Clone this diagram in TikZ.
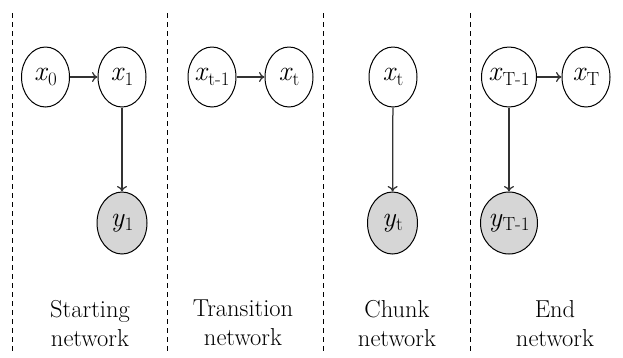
\documentclass[tikz,border=0pt]{standalone}
\usetikzlibrary{shapes.geometric,arrows.meta}
\newcommand{\vlab}[2]{\makebox[0pt]{\fontsize{28}{28}\selectfont\itshape #1\/\raisebox{-4.5pt}{\fontsize{19}{19}\selectfont\upshape #2}}}
\begin{document}
\begin{tikzpicture}[x=1pt,y=-1pt,
  rv/.style={ellipse, draw=black, line width=1pt, minimum width=48pt, minimum height=60pt, inner sep=0pt},
  obs/.style={rv, fill=black!16, minimum width=50pt, minimum height=62pt},
  arr/.style={draw=black!80, line width=1.25pt, -{To[length=5.5pt,width=10pt]}},
  divider/.style={draw=black, line width=0.8pt, dash pattern=on 5pt off 4pt},
  netlabel/.style={align=center, font=\fontsize{24.5}{29}\selectfont, inner sep=0pt, anchor=north}]
\useasboundingbox (0,0) rectangle (623,357);
% dividers
\coordinate (d1t) at (12,13);  \coordinate (d1b) at (12,352);
\coordinate (d2t) at (167,13); \coordinate (d2b) at (167,352);
\coordinate (d3t) at (323,13); \coordinate (d3b) at (323,352);
\coordinate (d4t) at (470,13); \coordinate (d4b) at (470,352);
\draw[divider] (d1t) -- (d1b);
\draw[divider] (d2t) -- (d2b);
\draw[divider] (d3t) -- (d3b);
\draw[divider] (d4t) -- (d4b);
% starting network
\node[rv] (x0) at (45.5,77) {\vlab{x}{0}};
\node[rv] (x1) at (122,77) {\vlab{x}{1}};
\node[obs] (y1) at (122,223) {\vlab{y}{1}};
\draw[arr] (x0) -- (x1);
\draw[arr] (x1) -- (y1);
% transition network
\node[rv] (xtm) at (212,77) {\vlab{x}{t-1}};
\node[rv] (xt) at (289,77) {\vlab{x}{t}};
\draw[arr] (xtm) -- (xt);
% chunk network
\node[rv] (cxt) at (393,77) {\vlab{x}{t}};
\node[obs] (cyt) at (392.5,223) {\vlab{y}{t}};
\draw[arr] (cxt) -- (cyt);
% end network
\node[rv, minimum width=55pt] (xTm) at (509,77) {\vlab{x}{T-1}};
\node[rv] (xT) at (586,77) {\vlab{x}{T}};
\node[obs, minimum width=57pt] (yTm) at (509,223) {\vlab{y}{T-1}};
\draw[arr] (xTm) -- (xT);
\draw[arr] (xTm) -- (yTm);
% labels
\node[netlabel] (l1) at (90,300) {Starting\\network};
\node[netlabel] (l2) at (243,300) {Transition\\network};
\node[netlabel] (l3) at (397,300) {Chunk\\network};
\node[netlabel] (l4) at (555,300) {End\\network};
\end{tikzpicture}
\end{document}
